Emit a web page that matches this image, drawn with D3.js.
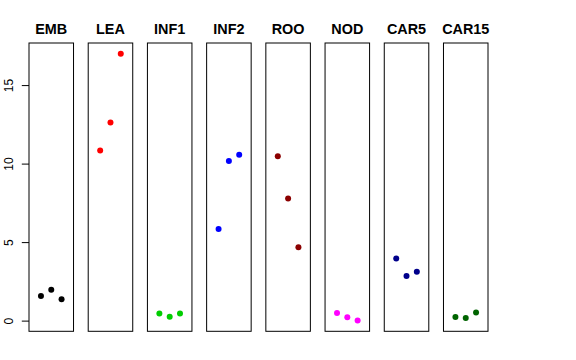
<!DOCTYPE html>
<html>
<head>
<meta charset="utf-8">
<script src="https://cdnjs.cloudflare.com/ajax/libs/d3/7.8.5/d3.min.js"></script>
<style>
  body { margin: 0; background: #fff; }
  svg { display: block; font-family: "Liberation Sans", Arial, Helvetica, sans-serif; }
</style>
</head>
<body>
<div id="chart"></div>
<script>
// panel names
var groups = ["EMB", "LEA", "INF1", "INF2", "ROO", "NOD", "CAR5", "CAR15"];

// three replicates per panel, plotted at x = 1, 2, 3
var reps = [1, 2, 3];
var values = [
    [1.57, 1.97, 1.36],
    [10.84, 12.62, 17.0],
    [0.46, 0.25, 0.45],
    [5.83, 10.16, 10.57],
    [10.46, 7.77, 4.67],
    [0.48, 0.21, 0.0],
    [3.95, 2.84, 3.12],
    [0.23, 0.17, 0.51]
];
var colors = ["#000000", "#ff0000", "#00cd00", "#0000ff", "#8b0000", "#ff00ff", "#00008b", "#006400"];
var yTicks = [0, 5, 10, 15];

var width = 576, height = 360;
var plotTop = 43, plotBottom = 331.3;

var svg = d3.select("#chart").append("svg")
    .attr("width", width)
    .attr("height", height);

// one band per panel
var band = d3.scaleBand()
    .domain(groups)
    .range([29, 488])
    .paddingInner(0.248)
    .paddingOuter(0);

// shared y scale (R style 4% padding)
var y = d3.scaleLinear()
    .domain([-0.68, 17.68])
    .range([plotBottom, plotTop]);

// x inside a panel: [0,4] padded 4%
var x = d3.scaleLinear()
    .domain([-0.16, 4.16])
    .range([0, band.bandwidth()]);

groups.forEach(function (g, i) {
    var panel = svg.append("g")
        .attr("transform", "translate(" + band(g) + ",0)");

    panel.append("rect")
        .attr("x", 0)
        .attr("y", plotTop)
        .attr("width", band.bandwidth())
        .attr("height", plotBottom - plotTop)
        .attr("fill", "none")
        .attr("stroke", "#000")
        .attr("stroke-width", 1);

    panel.selectAll("circle")
        .data(values[i])
        .enter().append("circle")
        .attr("cx", function (d, j) { return x(reps[j]); })
        .attr("cy", function (d) { return y(d); })
        .attr("r", 3)
        .attr("fill", colors[i]);

    panel.append("text")
        .attr("x", band.bandwidth() / 2)
        .attr("y", 34)
        .attr("text-anchor", "middle")
        .style("font-size", "14.4px")
        .style("font-weight", "bold")
        .text(g);
});

// y axis on the first panel only
var yAxis = svg.append("g")
    .attr("transform", "translate(" + band(groups[0]) + ",0)")
    .call(d3.axisLeft(y).tickValues(yTicks).tickSize(7.2).tickFormat(d3.format("d")));

yAxis.select(".domain").remove();
yAxis.selectAll(".tick line").attr("stroke", "#000");
yAxis.selectAll(".tick text")
    .attr("transform", "rotate(-90)")
    .attr("x", 0)
    .attr("y", -15.7)
    .attr("dy", 0)
    .attr("text-anchor", "middle")
    .attr("fill", "#000")
    .style("font-size", "12px")
    .style("font-family", "'Liberation Sans', Arial, sans-serif");
</script>
</body>
</html>
